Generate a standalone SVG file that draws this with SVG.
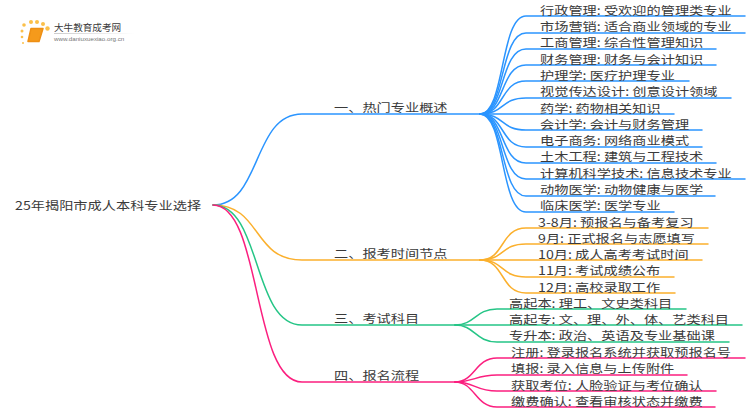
<svg xmlns="http://www.w3.org/2000/svg" width="750" height="410" viewBox="0 0 750 410">
<style>
text{font-family:"Noto Sans CJK SC","Liberation Sans",sans-serif;fill:#3a3a3a;white-space:pre;font-size:14.200px}
path{fill:none;stroke-width:1.5;stroke-linecap:round}
.cb path{stroke:#2b95ff}.co path{stroke:#fbb02d}.cg path{stroke:#25c586}.cp path{stroke:#fb1f7f}
</style>
<defs><linearGradient id="fade" x1="0" x2="1" y1="0" y2="0"><stop offset="0" stop-color="#ccc"/><stop offset="1" stop-color="#ccc" stop-opacity="0"/></linearGradient></defs>
<rect width="750" height="410" fill="#fff"/>
<g id="logo">
<g fill="#fbc04a"><circle cx="23" cy="43" r="1"/><circle cx="22" cy="37" r="1.300"/><circle cx="22" cy="31" r="1.500"/><circle cx="24" cy="25" r="1.800"/><circle cx="31" cy="22" r="2"/><circle cx="37" cy="22" r="2"/><circle cx="43" cy="24" r="2"/><circle cx="47.500" cy="28.500" r="2.200"/></g>
<path d="M31 28.500H43L39 41.500H28Z" style="fill:#f59a1b;stroke:#ee8f14;stroke-width:1.500;stroke-linejoin:round"/>
<text x="54" y="31" style="font-size:9.600px">大牛教育成考网</text>
<rect x="54" y="33" width="80" height="1" fill="url(#fade)"/>
<text x="54" y="41" style="font-size:6.200px;fill:#777;font-family:'Liberation Sans',sans-serif">www.daniuxuexiao.org.cn</text>
</g>
<g id="connectors">
<g class="cb">
<path d="M213 205C262 205 252 114 302 114H480"/>
<path d="M480 114C505 114 500 16 526 16H745"/>
<path d="M480 114C505 114 500 33 526 33H745"/>
<path d="M480 114C505 114 500 49 526 49H716"/>
<path d="M480 114C505 114 500 65 526 65H716"/>
<path d="M480 114C505 114 500 81 526 81H689"/>
<path d="M480 114C505 114 500 98 526 98H731"/>
<path d="M480 114H674"/>
<path d="M480 114C505 114 500 130 526 130H702"/>
<path d="M480 114C505 114 500 147 526 147H702"/>
<path d="M480 114C505 114 500 163 526 163H716"/>
<path d="M480 114C505 114 500 179 526 179H745"/>
<path d="M480 114C505 114 500 196 526 196H715"/>
<path d="M480 114C505 114 500 212 526 212H674"/>
</g>
<g class="co">
<path d="M213 205C262 205 252 260 302 260H480"/>
<path d="M480 260C505 260 500 228 526 228H708"/>
<path d="M480 260C505 260 500 244 526 244H708"/>
<path d="M480 260H702"/>
<path d="M480 260C505 260 500 277 526 277H674"/>
<path d="M480 260C505 260 500 293 526 293H675"/>
</g>
<g class="cg">
<path d="M213 205C262 205 252 325 302 325H455"/>
<path d="M455 325C475 325 475 309 497 309H686"/>
<path d="M455 325H742"/>
<path d="M455 325C475 325 475 342 497 342H729"/>
</g>
<g class="cp">
<path d="M213 205C262 205 252 382 302 382H455"/>
<path d="M455 382C475 382 475 358 497 358H745"/>
<path d="M455 382C475 382 475 375 497 375H687"/>
<path d="M455 382C475 382 475 391 497 391H716"/>
<path d="M455 382C475 382 475 407 497 407H715"/>
</g>
</g>
<g id="root"><text transform="translate(15 209.500) scale(1 .84)">25年揭阳市成人本科专业选择</text></g>
<g id="n1"><text transform="translate(334 112) scale(1 .84)">一、热门专业概述</text></g>
<g id="n2"><text transform="translate(334 258) scale(1 .84)">二、报考时间节点</text></g>
<g id="n3"><text transform="translate(334 323) scale(1 .84)">三、考试科目</text></g>
<g id="n4"><text transform="translate(334 380) scale(1 .84)">四、报名流程</text></g>
<g id="n1-1"><text transform="translate(540 14.500) scale(1 .84)">行政管理: 受欢迎的管理类专业</text></g>
<g id="n1-2"><text transform="translate(540 31) scale(1 .84)">市场营销: 适合商业领域的专业</text></g>
<g id="n1-3"><text transform="translate(540 47) scale(1 .84)">工商管理: 综合性管理知识</text></g>
<g id="n1-4"><text transform="translate(540 63.500) scale(1 .84)">财务管理: 财务与会计知识</text></g>
<g id="n1-5"><text transform="translate(540 80) scale(1 .84)">护理学: 医疗护理专业</text></g>
<g id="n1-6"><text transform="translate(540 96) scale(1 .84)">视觉传达设计: 创意设计领域</text></g>
<g id="n1-7"><text transform="translate(540 112.500) scale(1 .84)">药学: 药物相关知识</text></g>
<g id="n1-8"><text transform="translate(540 128.500) scale(1 .84)">会计学: 会计与财务管理</text></g>
<g id="n1-9"><text transform="translate(540 145) scale(1 .84)">电子商务: 网络商业模式</text></g>
<g id="n1-10"><text transform="translate(540 161) scale(1 .84)">土木工程: 建筑与工程技术</text></g>
<g id="n1-11"><text transform="translate(540 177.500) scale(1 .84)">计算机科学技术: 信息技术专业</text></g>
<g id="n1-12"><text transform="translate(540 194) scale(1 .84)">动物医学: 动物健康与医学</text></g>
<g id="n1-13"><text transform="translate(540 210) scale(1 .84)">临床医学: 医学专业</text></g>
<g id="n2-1"><text transform="translate(538 226.500) scale(1 .84)">3-8月: 预报名与备考复习</text></g>
<g id="n2-2"><text transform="translate(538 242.500) scale(1 .84)">9月: 正式报名与志愿填写</text></g>
<g id="n2-3"><text transform="translate(538 259) scale(1 .84)">10月: 成人高考考试时间</text></g>
<g id="n2-4"><text transform="translate(538 275) scale(1 .84)">11月: 考试成绩公布</text></g>
<g id="n2-5"><text transform="translate(538 291.500) scale(1 .84)">12月: 高校录取工作</text></g>
<g id="n3-1"><text transform="translate(509 307.500) scale(1 .84)">高起本: 理工、文史类科目</text></g>
<g id="n3-2"><text transform="translate(509 324) scale(1 .84)">高起专: 文、理、外、体、艺类科目</text></g>
<g id="n3-3"><text transform="translate(509 340) scale(1 .84)">专升本: 政治、英语及专业基础课</text></g>
<g id="n4-1"><text transform="translate(511 356.500) scale(1 .84)">注册: 登录报名系统并获取预报名号</text></g>
<g id="n4-2"><text transform="translate(511 373) scale(1 .84)">填报: 录入信息与上传附件</text></g>
<g id="n4-3"><text transform="translate(511 389.500) scale(1 .84)">获取考位: 人脸验证与考位确认</text></g>
<g id="n4-4"><text transform="translate(511 405.500) scale(1 .84)">缴费确认: 查看审核状态并缴费</text></g>
</svg>
